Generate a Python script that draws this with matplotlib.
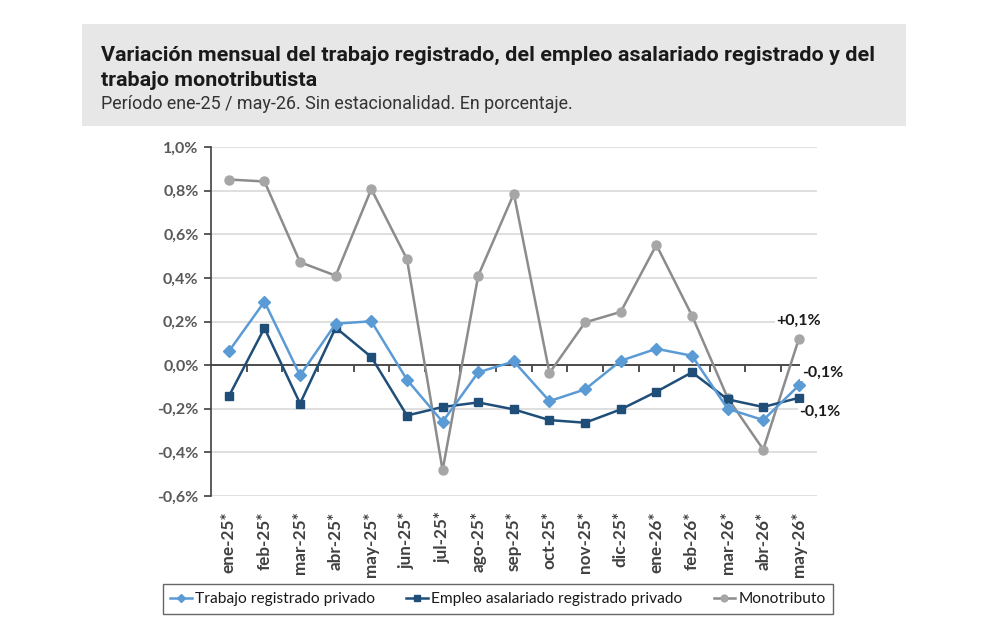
import matplotlib
matplotlib.use("Agg")
import matplotlib.pyplot as plt
from matplotlib.patches import Rectangle
from matplotlib.ticker import FixedLocator

months = ["ene-25*", "feb-25*", "mar-25*", "abr-25*", "may-25*", "jun-25*", "jul-25*",
          "ago-25*", "sep-25*", "oct-25*", "nov-25*", "dic-25*", "ene-26*", "feb-26*",
          "mar-26*", "abr-26*", "may-26*"]
trabajo = [0.063, 0.291, -0.047, 0.190, 0.201, -0.067, -0.260, -0.033, 0.017,
           -0.165, -0.111, 0.020, 0.075, 0.043, -0.200, -0.252, -0.093]
empleo = [-0.143, 0.170, -0.176, 0.172, 0.037, -0.231, -0.192, -0.171, -0.203,
          -0.252, -0.264, -0.203, -0.122, -0.033, -0.157, -0.192, -0.150]
monotributo = [0.851, 0.842, 0.472, 0.410, 0.807, 0.486, -0.482, 0.410, 0.786,
               -0.036, 0.196, 0.244, 0.551, 0.227, -0.150, -0.387, 0.121]
yticks = [-0.6, -0.4, -0.2, 0.0, 0.2, 0.4, 0.6, 0.8, 1.0]
ytick_labels = ["-0,6%", "-0,4%", "-0,2%", "0,0%", "0,2%", "0,4%", "0,6%", "0,8%", "1,0%"]
series_names = ["Trabajo registrado privado", "Empleo asalariado registrado privado", "Monotributo"]
end_labels = ["-0,1%", "-0,1%", "+0,1%"]

W, H = 992, 644
fig = plt.figure(figsize=(W / 100, H / 100), dpi=100)

# Header box
fig.patches.append(Rectangle((82 / W, 1 - 126 / H), (906 - 82) / W, (126 - 24) / H,
                             transform=fig.transFigure, facecolor="#e7e7e7",
                             edgecolor="none", zorder=0))
fig.text(101 / W, 1 - 55 / H, "Variación mensual del trabajo registrado, del empleo asalariado registrado y del",
         fontsize=15.45, fontweight="bold", family="Roboto", color="#1a1a1a", va="center")
fig.text(101 / W, 1 - 80 / H, "trabajo monotributista",
         fontsize=15.45, fontweight="bold", family="Roboto", color="#1a1a1a", va="center")
fig.text(101 / W, 1 - 104 / H, "Período ene-25 / may-26. Sin estacionalidad. En porcentaje.",
         fontsize=12.9, family="Roboto", color="#333333", va="center")

ax = fig.add_axes([211 / W, 1 - 496 / H, (816.7 - 211) / W, (496 - 147) / H])
x = list(range(len(months)))

l1, = ax.plot(x, trabajo, color="#5B9BD5", lw=1.8, marker="D", ms=6,
              markerfacecolor="#5B9BD5", markeredgecolor="#5B9BD5", zorder=4,
              label=series_names[0])
l2, = ax.plot(x, empleo, color="#1F4E79", lw=1.8, marker="s", ms=5.5,
              markerfacecolor="#1F4E79", markeredgecolor="#1F4E79", zorder=3,
              label=series_names[1])
l3, = ax.plot(x, monotributo, color="#8C8C8C", lw=1.8, marker="o", ms=6.5,
              markerfacecolor="#A6A6A6", markeredgecolor="#A6A6A6", zorder=2,
              label=series_names[2])

ax.set_xlim(-0.5, len(months) - 0.5)
ax.set_ylim(-0.6, 1.0)
ax.set_yticks(yticks)
ax.set_yticklabels(ytick_labels)
ax.grid(axis="y", color="#d9d9d9", lw=1.2, zorder=0)
ax.set_axisbelow(True)

for s in ["top", "right"]:
    ax.spines[s].set_visible(False)
ax.spines["left"].set_color("#404040")
ax.spines["left"].set_linewidth(1.2)
ax.spines["bottom"].set_position(("data", 0))
ax.spines["bottom"].set_color("#333333")
ax.spines["bottom"].set_linewidth(1.2)
ax.spines["bottom"].set_zorder(1)

ax.tick_params(axis="y", direction="out", length=5, width=1.2, color="#404040",
               labelsize=11.5, labelcolor="#595959", pad=4)
for t in ax.get_yticklabels():
    t.set_fontweight("bold")
    t.set_family("Lato")

ax.set_xticks(x)
ax.tick_params(axis="x", which="major", length=0, labelbottom=False)
ax.xaxis.set_minor_locator(FixedLocator([i + 0.5 for i in x[:-1]]))
ax.tick_params(axis="x", which="minor", direction="out", length=5, width=1.2, color="#333333")

sec = ax.secondary_xaxis("bottom")
sec.set_xticks(x)
sec.set_xticklabels(months, rotation=90, fontsize=12.3, fontweight="bold",
                    family="Lato", color="#404040")
sec.tick_params(length=0, pad=11)
sec.spines["bottom"].set_visible(False)

# End-point labels
bb = dict(facecolor="white", edgecolor="none", pad=1)
last = len(months) - 1
ax.annotate(end_labels[2], (last, monotributo[-1]), xytext=(0, 13), textcoords="offset points",
            ha="center", va="center", fontsize=11.5, fontweight="bold", family="Lato",
            color="#1a1a1a", bbox=bb, zorder=6)
ax.annotate(end_labels[0], (last, trabajo[-1]), xytext=(17, 9), textcoords="offset points",
            ha="center", va="center", fontsize=11.5, fontweight="bold", family="Lato",
            color="#1a1a1a", bbox=bb, zorder=6)
ax.annotate(end_labels[1], (last, empleo[-1]), xytext=(15, -10), textcoords="offset points",
            ha="center", va="center", fontsize=11.5, fontweight="bold", family="Lato",
            color="#1a1a1a", bbox=bb, zorder=6)

leg = fig.legend(handles=[l1, l2, l3], loc="center",
                 bbox_to_anchor=(498 / W, 1 - 599 / H), ncol=3, frameon=True,
                 fancybox=False, edgecolor="#404040", handlelength=1.4,
                 handletextpad=0.2, columnspacing=2.0, borderpad=0.5,
                 prop={"family": "Lato", "size": 11.2}, markerscale=0.75)
leg.get_frame().set_linewidth(1.0)
for t in leg.get_texts():
    t.set_color("#1a1a1a")

fig.savefig("out.png", dpi=100)
